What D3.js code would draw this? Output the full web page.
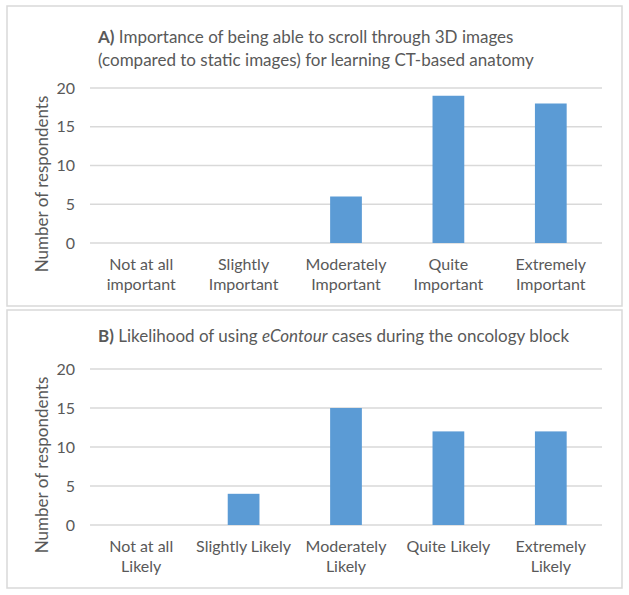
<!DOCTYPE html>
<html>
<head>
<meta charset="utf-8">
<script src="https://cdn.jsdelivr.net/npm/d3@7"></script>
<style>
  body { margin: 0; background: #fff; }
  text { font-family: Lato, "Open Sans", sans-serif; fill: #595959; }
</style>
</head>
<body>
<div id="chart"></div>
<script>
// data
const yTicks = [0, 5, 10, 15, 20];
const catsA = [["Not at all", "important"], ["Slightly", "Important"], ["Moderately", "Important"], ["Quite", "Important"], ["Extremely", "Important"]];
const valsA = [0, 0, 6, 19, 18];
const catsB = [["Not at all", "Likely"], ["Slightly Likely"], ["Moderately", "Likely"], ["Quite Likely"], ["Extremely", "Likely"]];
const valsB = [0, 4, 15, 12, 12];

const W = 629, H = 595;
const barColor = '#5B9BD5', gridColor = '#D9D9D9';

const svg = d3.select('#chart').append('svg')
  .attr('width', W).attr('height', H);

function drawPanel(p) {
  // panel frame
  svg.append('rect')
    .attr('x', 7).attr('y', p.top)
    .attr('width', 615).attr('height', p.height)
    .attr('fill', 'none').attr('stroke', gridColor).attr('stroke-width', 1.5);

  const g = svg.append('g').attr('transform', `translate(90, ${p.plotTop})`);
  const pw = 512, ph = p.plotH;

  const x = d3.scaleBand().domain(d3.range(p.cats.length))
    .range([0, pw]).paddingInner(0.69).paddingOuter(0.345);
  const y = d3.scaleLinear().domain([0, 20]).range([ph, 0]);

  // gridlines
  g.append('g').selectAll('line').data(yTicks).join('line')
    .attr('x1', 0).attr('x2', pw)
    .attr('y1', d => y(d)).attr('y2', d => y(d))
    .attr('stroke', gridColor).attr('stroke-width', 1.3);

  // y tick labels
  g.append('g').selectAll('text').data(yTicks).join('text')
    .attr('x', -15).attr('y', d => y(d)).attr('dy', '0.35em')
    .attr('text-anchor', 'end').style('font-size', '16px')
    .text(d => d);

  // bars
  g.append('g').selectAll('rect').data(p.vals).join('rect')
    .attr('x', (d, i) => x(i)).attr('width', x.bandwidth())
    .attr('y', d => y(d)).attr('height', d => ph - y(d))
    .attr('fill', barColor);

  // category labels
  const lab = g.append('g').selectAll('text').data(p.cats).join('text')
    .attr('text-anchor', 'middle').style('font-size', '16px')
    .attr('transform', (d, i) => `translate(${x(i) + x.bandwidth() / 2}, ${ph + 27})`);
  lab.selectAll('tspan').data(d => d).join('tspan')
    .attr('x', 0).attr('y', (d, i) => i * 20).text(d => d);

  // y axis title
  svg.append('text')
    .attr('transform', `translate(48, ${p.yTitleY}) rotate(-90)`)
    .attr('text-anchor', 'middle').style('font-size', '17px')
    .text('Number of respondents');

  // chart title
  p.title.forEach((line, li) => {
    const t = svg.append('text').attr('x', 98).attr('y', p.titleY + li * 23)
      .style('font-size', '17px');
    line.forEach(seg => {
      t.append('tspan').text(seg.t)
        .style('font-weight', seg.b ? 'bold' : null)
        .style('font-style', seg.i ? 'italic' : null);
    });
  });
}

drawPanel({
  top: 6, height: 300, plotTop: 88, plotH: 155, yTitleY: 184, titleY: 43,
  cats: catsA, vals: valsA,
  title: [
    [{t: 'A)', b: true}, {t: ' Importance of being able to scroll through 3D images'}],
    [{t: '(compared to static images) for learning CT-based anatomy'}]
  ]
});

drawPanel({
  top: 310, height: 278, plotTop: 369, plotH: 156, yTitleY: 465, titleY: 342,
  cats: catsB, vals: valsB,
  title: [
    [{t: 'B)', b: true}, {t: ' Likelihood of using '}, {t: 'eContour', i: true}, {t: ' cases during the oncology block'}]
  ]
});
</script>
</body>
</html>
